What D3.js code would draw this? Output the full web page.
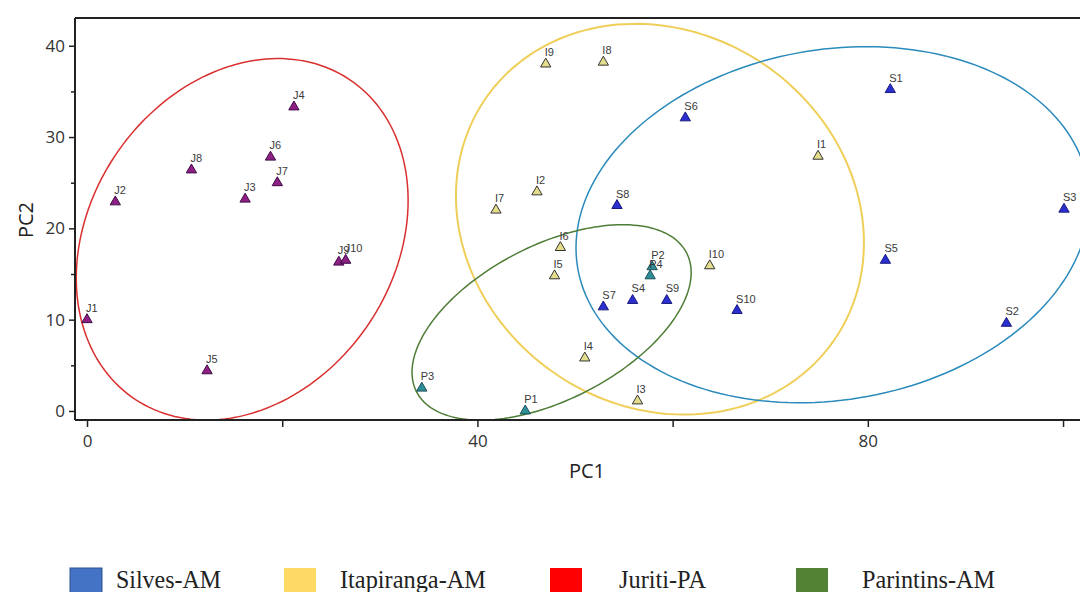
<!DOCTYPE html>
<html>
<head>
<meta charset="utf-8">
<script src="https://cdn.jsdelivr.net/npm/d3@7"></script>
<style>
  body { margin: 0; background: #fff; }
  svg { display: block; }
</style>
</head>
<body>
<div id="chart"></div>
<script>
// sample scores
var juritiLabels = ["J1","J2","J3","J4","J5","J6","J7","J8","J9","J10"];
var juritiPC1 = [0.0, 2.9, 16.2, 21.2, 12.3, 18.8, 19.5, 10.7, 25.8, 26.5];
var juritiPC2 = [10.0, 22.9, 23.2, 33.3, 4.4, 27.8, 25.0, 26.4, 16.3, 16.5];

var itapirangaLabels = ["I1","I2","I3","I4","I5","I6","I7","I8","I9","I10"];
var itapirangaPC1 = [74.9, 46.1, 56.4, 51.0, 47.9, 48.5, 41.9, 52.9, 47.0, 63.8];
var itapirangaPC2 = [27.9, 24.0, 1.1, 5.8, 14.8, 17.9, 22.0, 38.2, 38.0, 15.9];

var silvesLabels = ["S1","S2","S3","S4","S5","S6","S7","S8","S9","S10"];
var silvesPC1 = [82.3, 94.2, 100.1, 55.9, 81.8, 61.3, 52.9, 54.3, 59.4, 66.6];
var silvesPC2 = [35.2, 9.6, 22.1, 12.1, 16.5, 32.1, 11.4, 22.5, 12.1, 11.0];

var parintinsLabels = ["P1","P2","P3","P4"];
var parintinsPC1 = [44.9, 57.9, 34.3, 57.7];
var parintinsPC2 = [0.0, 15.8, 2.5, 14.8];

// group ellipses: centre, half extents and correlation (data units)
var ellipseGroups = ["Juriti-PA","Itapiranga-AM","Silves-AM","Parintins-AM"];
var ellipseCX = [15.9, 58.7, 76.4, 47.6];
var ellipseCY = [18.8, 21.0, 20.4, 9.7];
var ellipseSX = [17.0, 20.9, 26.3, 14.3];
var ellipseSY = [19.8, 21.4, 19.5, 10.7];
var ellipseR  = [0.215, -0.12, 0.13, 0.51];

var legendNames = ["Silves-AM","Itapiranga-AM","Juriti-PA","Parintins-AM"];
var xTicks = [0, 20, 40, 60, 80, 100];
var xTickLabels = [0, 40, 80];
var yTicks = [0, 10, 20, 30, 40];
var yMinorTicks = [5, 15, 25, 35];

var width = 1080, height = 592;
var plotLeft = 75, plotRight = 1085, plotTop = 18, plotBottom = 420;

var svg = d3.select("#chart").append("svg")
  .attr("width", width).attr("height", height);

var x = d3.scaleLinear().domain([-1.23, 102.25]).range([plotLeft, plotRight]);
var y = d3.scaleLinear().domain([-0.99, 43.04]).range([plotBottom, plotTop]);

svg.append("clipPath").attr("id", "plotclip")
  .append("rect").attr("x", plotLeft).attr("y", plotTop)
  .attr("width", plotRight - plotLeft).attr("height", plotBottom - plotTop);

// ellipses
var ellipseColors = {"Juriti-PA":"#d9302f","Itapiranga-AM":"#efcf5a","Silves-AM":"#2a8abb","Parintins-AM":"#4e7d36"};
var ellipseWidths = {"Juriti-PA":1.5,"Itapiranga-AM":2,"Silves-AM":1.5,"Parintins-AM":1.5};
var line = d3.line().x(function(d){return x(d[0]);}).y(function(d){return y(d[1]);}).curve(d3.curveLinearClosed);

var ellG = svg.append("g").attr("clip-path", "url(#plotclip)");
ellipseGroups.forEach(function(g, i) {
  var pts = d3.range(0, 360, 2).map(function(a) {
    var t = a * Math.PI / 180;
    var r = ellipseR[i];
    return [ellipseCX[i] + ellipseSX[i] * Math.cos(t),
            ellipseCY[i] + ellipseSY[i] * (r * Math.cos(t) + Math.sqrt(1 - r*r) * Math.sin(t))];
  });
  ellG.append("path").attr("d", line(pts))
    .attr("fill", "none")
    .attr("stroke", ellipseColors[g])
    .attr("stroke-width", ellipseWidths[g]);
});

// frame
svg.append("line").attr("x1", plotLeft).attr("x2", width).attr("y1", plotTop).attr("y2", plotTop)
  .attr("stroke", "#222").attr("stroke-width", 2);
svg.append("line").attr("x1", plotLeft).attr("x2", plotLeft).attr("y1", plotTop).attr("y2", plotBottom)
  .attr("stroke", "#222").attr("stroke-width", 2);

// axes
var xAxis = d3.axisBottom(x).tickValues(xTicks).tickSize(7)
  .tickFormat(function(d){ return xTickLabels.indexOf(d) >= 0 ? d : ""; });
var gx = svg.append("g").attr("transform", "translate(0," + plotBottom + ")").call(xAxis);
gx.select(".domain").attr("d", "M" + plotLeft + ",0H" + width).attr("stroke", "#222").attr("stroke-width", 2);
gx.selectAll(".tick line").attr("stroke", "#222").attr("stroke-width", 1.5);
gx.selectAll("text").attr("font-family", "'Open Sans', sans-serif").attr("font-size", 17)
  .attr("fill", "#333").attr("dy", "1.0em");

var yAxis = d3.axisLeft(y).tickValues(yTicks).tickSize(6).tickPadding(4);
var gy = svg.append("g").attr("transform", "translate(" + plotLeft + ",0)").call(yAxis);
gy.select(".domain").remove();
gy.selectAll(".tick line").attr("stroke", "#222").attr("stroke-width", 1.5);
gy.selectAll("text").attr("font-family", "'Open Sans', sans-serif").attr("font-size", 17).attr("fill", "#333");
var gyMinor = svg.append("g").attr("transform", "translate(" + plotLeft + ",0)")
  .call(d3.axisLeft(y).tickValues(yMinorTicks).tickSize(4).tickFormat(""));
gyMinor.select(".domain").remove();
gyMinor.selectAll(".tick line").attr("stroke", "#222").attr("stroke-width", 1.5);

svg.append("text").text("PC1").attr("x", 587).attr("y", 478)
  .attr("text-anchor", "middle").attr("font-family", "'Open Sans', sans-serif")
  .attr("font-size", 20).attr("fill", "#222");
svg.append("text").text("PC2").attr("transform", "translate(33,220) rotate(-90)")
  .attr("text-anchor", "middle").attr("font-family", "'Open Sans', sans-serif")
  .attr("font-size", 20).attr("fill", "#222");

// points
function makeRows(labels, xs, ys, fill, stroke) {
  return labels.map(function(l, i){ return {name:l, pc1:xs[i], pc2:ys[i], fill:fill, stroke:stroke}; });
}
var points = [].concat(
  makeRows(juritiLabels, juritiPC1, juritiPC2, "#8e1f84", "#3d0c45"),
  makeRows(itapirangaLabels, itapirangaPC1, itapirangaPC2, "#e4dd8c", "#333"),
  makeRows(silvesLabels, silvesPC1, silvesPC2, "#2b2fd0", "#1a1a7a"),
  makeRows(parintinsLabels, parintinsPC1, parintinsPC2, "#2e8e98", "#1b4f58")
);

var tri = d3.symbol().type(d3.symbolTriangle).size(46);
var pg = svg.selectAll("g.pt").data(points).enter().append("g")
  .attr("class", "pt")
  .attr("transform", function(d){ return "translate(" + x(d.pc1) + "," + y(d.pc2) + ")"; });
pg.append("path").attr("d", tri)
  .attr("fill", function(d){ return d.fill; })
  .attr("stroke", function(d){ return d.stroke; })
  .attr("stroke-width", 1);
pg.append("text").text(function(d){ return d.name; })
  .attr("x", -1).attr("y", -8)
  .attr("font-family", "Arial, 'Liberation Sans', sans-serif")
  .attr("font-size", 11).attr("fill", "#3a3a3a");

// legend
var legendColors = ["#4472c4", "#ffd966", "#ff0000", "#548235"];
var legendBoxX = [70, 284, 550, 796];
var legendTextX = [116, 340, 619, 862];
var legendTextW = [105, 146, 87, 133];
legendNames.forEach(function(n, i) {
  svg.append("rect").attr("x", legendBoxX[i]).attr("y", 568)
    .attr("width", 32).attr("height", 30)
    .attr("fill", legendColors[i])
    .attr("stroke", i === 0 ? "#2f528f" : "none");
  svg.append("text").text(n).attr("x", legendTextX[i]).attr("y", 588)
    .attr("font-family", "'Liberation Serif', 'Times New Roman', serif")
    .attr("font-size", 25).attr("fill", "#222")
    .attr("textLength", legendTextW[i]).attr("lengthAdjust", "spacingAndGlyphs");
});
</script>
</body>
</html>
